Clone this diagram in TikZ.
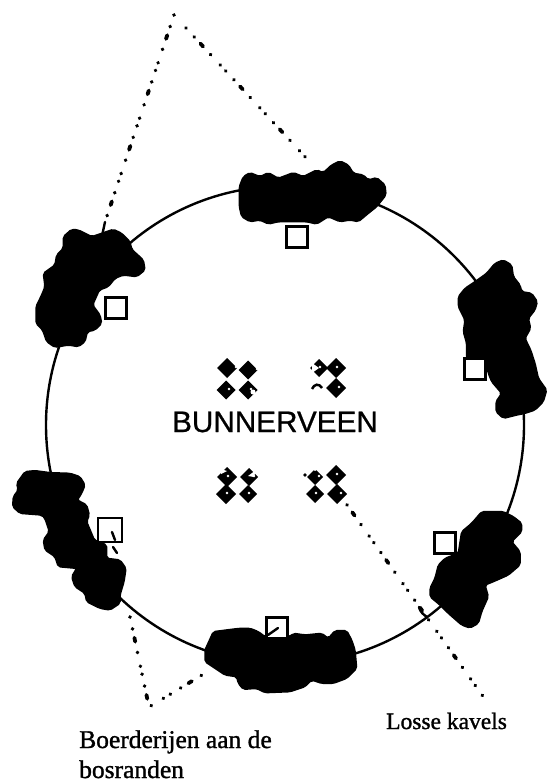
\documentclass[tikz,border=0pt]{standalone}
\usepackage{fontspec}
\setmainfont[FakeBold=1.2]{Liberation Serif}
\newfontfamily\labelsans[FakeBold=0.8]{Liberation Sans}
\tikzset{
  ring/.style={draw=black,line width=2.4pt},
  farm/.style={draw=black,fill=white,line width=2.8pt,minimum size=21pt,inner sep=0pt,rectangle},
  lead/.style={draw=black,line width=3.8pt,line cap=round,dash pattern=on 0.1pt off 12pt on 0.1pt off 9pt on 4pt off 11pt on 0.1pt off 14pt on 0.1pt off 8pt},
  stub/.style={draw=black,line width=2.4pt,line cap=round},
  caption/.style={anchor=base west,inner sep=0pt,text=black},
  wood/.style={fill=black,draw=black,line width=1.5pt,rounded corners=2pt},
  crop/.style 2 args={shift={(#1,#2)},x=0.33333pt,y=-0.33333pt}
}
\newcommand{\dia}[4]{%
  \fill[black] (#1-#3-1,#2)--(#1,#2-#3-1)--(#1+#3+1,#2)--(#1,#2+#3+1)--cycle;
  \fill[white] (#1+#4,#2-1) circle[radius=1.4];}
\begin{document}
\begin{tikzpicture}[x=1pt,y=-1pt]
\useasboundingbox (0,0) rectangle (554,783);
\fill[white] (0,0) rectangle (554,783);
\coordinate (c) at (285,425);
\draw[ring] (c) circle[radius=239];
% leaders
\coordinate (apex) at (174,15);
\coordinate (apexr) at (186,28);
\coordinate (bl) at (105,222);
\coordinate (br) at (309,161);
\coordinate (low) at (149,707);
\coordinate (la) at (130,617);
\coordinate (lb) at (207,672);
\coordinate (kv) at (340,495);
\coordinate (kvend) at (487,702);
\draw[lead] (apex) -- (bl);
\draw[lead] (apexr) -- (br);
\draw[lead] (la) -- (low) -- (lb);
\draw[lead] (kv) -- (kvend);
\draw[stub] (bl) -- (102,236);
\draw[stub] (419,607) .. controls (420,612) and (424,615) .. (427,617);
% top wood
\begin{scope}[crop={30}{0}]
\fill[wood] (640,530)--(660,518)--(690,530)--(715,518)--(745,535)--(790,518)--(820,530)--(860,510)--(880,518)--(905,495)--(930,483)--(955,495)--(970,520)--(1000,525)--(1015,540)--(1040,533)--(1065,555)--(1068,585)--(1040,620)--(1015,640)--(985,665)--(960,660)--(930,665)--(895,650)--(860,672)--(830,665)--(790,665)--(745,665)--(715,672)--(690,660)--(660,665)--(635,650)--(628,620)--(628,560)--cycle;
\end{scope}
% upper-left wood
\begin{scope}[crop={0}{210}]
\fill[wood] (190,80)--(215,58)--(235,60)--(275,80)--(305,70)--(340,58)--(365,70)--(390,95)--(395,118)--(430,150)--(435,180)--(410,200)--(370,195)--(345,205)--(325,230)--(298,240)--(278,285)--(300,315)--(305,340)--(285,360)--(262,365)--(255,395)--(235,410)--(205,405)--(165,412)--(140,395)--(128,360)--(108,340)--(108,290)--(125,255)--(135,230)--(130,190)--(165,165)--(170,135)--(190,115)--cycle;
\end{scope}
% right wood
\begin{scope}[crop={420}{250}]
\fill[wood] (165,95)--(200,70)--(225,40)--(250,30)--(275,45)--(280,80)--(300,105)--(305,125)--(335,130)--(352,155)--(345,180)--(325,205)--(332,235)--(315,265)--(332,300)--(345,340)--(355,385)--(380,420)--(370,455)--(345,480)--(315,490)--(290,495)--(250,505)--(228,485)--(228,455)--(245,430)--(215,395)--(205,370)--(195,325)--(140,325)--(140,280)--(130,245)--(135,210)--(115,170)--(115,140)--(135,115)--cycle;
\end{scope}
% lower-right wood
\begin{scope}[crop={410}{490}]
\fill[wood] (215,65)--(280,65)--(310,80)--(335,100)--(335,125)--(305,155)--(330,185)--(330,225)--(295,255)--(250,275)--(225,285)--(235,320)--(215,365)--(205,400)--(180,414)--(155,405)--(115,370)--(90,345)--(60,320)--(60,295)--(75,265)--(85,225)--(105,205)--(145,190)--(155,125)--(185,100)--cycle;
\end{scope}
% bottom wood
\begin{scope}[crop={190}{600}]
\fill[wood] (70,95)--(125,88)--(150,85)--(180,85)--(205,95)--(225,110)--(300,110)--(310,100)--(345,105)--(395,100)--(415,115)--(435,92)--(470,92)--(485,120)--(495,150)--(500,205)--(470,235)--(430,250)--(395,250)--(365,240)--(345,260)--(300,275)--(225,278)--(200,265)--(160,268)--(145,250)--(140,230)--(105,225)--(75,205)--(45,185)--(45,150)--cycle;
\end{scope}
% lower-left wood
\begin{scope}[crop={0}{460}]
\fill[wood] (75,35)--(105,32)--(150,38)--(210,40)--(240,50)--(255,75)--(245,100)--(232,120)--(260,135)--(268,165)--(260,185)--(283,240)--(320,255)--(320,295)--(360,300)--(378,325)--(372,365)--(360,405)--(360,430)--(330,450)--(300,445)--(260,425)--(255,400)--(225,380)--(215,350)--(230,325)--(175,320)--(165,290)--(135,270)--(130,240)--(148,215)--(135,175)--(125,165)--(60,160)--(38,140)--(40,110)--(55,90)--(50,70)--cycle;
\end{scope}
% farm squares
\node[farm] (f1) at (297,237) {};
\node[farm] (f2) at (116,308) {};
\node[farm] (f3) at (475,369) {};
\node[farm] (f4) at (445,543) {};
\node[farm,minimum size=24pt] (f5) at (110,530) {};
\node[farm] (f6) at (277,628) {};
\draw[stub] (112,532) -- (115,540);
\draw[stub] (113,547) -- (117,553);
\draw[stub] (268,635) -- (278,628);
% clusters
\dia{227}{368}{9}{9} \dia{248}{370}{8.5}{9} \dia{226}{390}{8.5}{3} \dia{248}{390}{8.5}{3}
\fill[white] (253,392) circle[radius=2.5];
\dia{319}{368}{8}{1} \dia{336}{368}{9}{1} \dia{336}{388}{9}{3}
\fill[white] (312,363) -- (319,368) -- (312,373) -- cycle;
\draw[black,line width=2.5pt] (312,389) .. controls (314,384) and (319,383) .. (322,388);
\dia{227}{477}{9}{1} \dia{249}{477}{8}{5} \dia{226}{494}{9}{1} \dia{248}{494}{8}{1}
\fill[white] (227,471) -- (221,469) -- (221,474) -- cycle;
\fill[white] (254,477) -- (248,476) -- (256,470) -- cycle;
\dia{315}{477}{7}{4} \dia{336}{475}{9}{1} \dia{315}{494}{8}{1} \dia{337}{494}{9}{4}
\fill[white] (315,471) -- (312,469) -- (318,469) -- cycle;
\fill[black] (305,475) circle[radius=1.8];
% labels
\node[inner sep=0pt,font=\labelsans\fontsize{29.7}{30}\selectfont] (town) at (275,422) {BUNNERVEEN};
\node[caption,font=\fontsize{25.5}{26}\selectfont] (cap1) at (79,748) {Boerderijen aan de};
\node[caption,font=\fontsize{25.5}{26}\selectfont] (cap2) at (79,778) {bosranden};
\node[caption,font=\fontsize{23.5}{26}\selectfont] (cap3) at (386,729) {Losse kavels};
\end{tikzpicture}
\end{document}
